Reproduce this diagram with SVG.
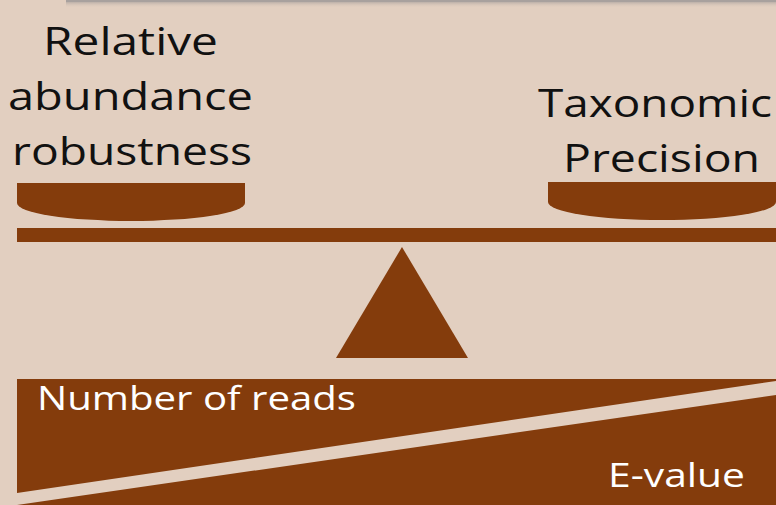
<svg xmlns="http://www.w3.org/2000/svg" width="776" height="505" viewBox="0 0 776 505">
<style>
.bg{fill:#E2CFC0}
.br{fill:#843C0C}
.dk{font-family:"Open Sans","Liberation Sans",Arial,sans-serif;font-size:38px;fill:#111}
.wt{font-family:"Open Sans","Liberation Sans",Arial,sans-serif;font-size:32px;fill:#fff}
</style>
<defs>
<linearGradient id="sh" x1="0" y1="0" x2="0" y2="1">
<stop offset="0" stop-color="#9e9896"/>
<stop offset="1" stop-color="#E2CFC0" stop-opacity="0"/>
</linearGradient>
</defs>
<rect class="bg" x="0" y="0" width="776" height="505"/>
<rect x="66" y="0" width="710" height="8" fill="url(#sh)"/>
<rect x="66" y="0" width="710" height="2" fill="#a8a19e"/>
<g id="left-label">
<text class="dk" x="43" y="55" textLength="175" lengthAdjust="spacingAndGlyphs">Relative</text>
<text class="dk" x="8" y="110" textLength="245" lengthAdjust="spacingAndGlyphs">abundance</text>
<text class="dk" x="12" y="165" textLength="240" lengthAdjust="spacingAndGlyphs">robustness</text>
</g>
<g id="right-label">
<text class="dk" x="538" y="117" textLength="234" lengthAdjust="spacingAndGlyphs">Taxonomic</text>
<text class="dk" x="563" y="172" textLength="197" lengthAdjust="spacingAndGlyphs">Precision</text>
</g>
<g id="left-pan"><path class="br" d="M17,183 H245 V203 A114,18 0 0 1 17,203 Z"/></g>
<g id="right-pan"><path class="br" d="M548,182 H776 V202 A114,18 0 0 1 548,202 Z"/></g>
<g id="beam"><rect class="br" x="17" y="228" width="760" height="14"/></g>
<g id="fulcrum"><polygon class="br" points="402,247 468,358 336,358"/></g>
<g id="reads">
<polygon class="br" points="17,379 776,379 776,381 17,493"/>
<text class="wt" x="37" y="410" textLength="319" lengthAdjust="spacingAndGlyphs">Number of reads</text>
</g>
<g id="evalue">
<polygon class="br" points="17,505 776,395 776,505"/>
<text class="wt" x="608" y="487" textLength="137" lengthAdjust="spacingAndGlyphs">E-value</text>
</g>
</svg>
